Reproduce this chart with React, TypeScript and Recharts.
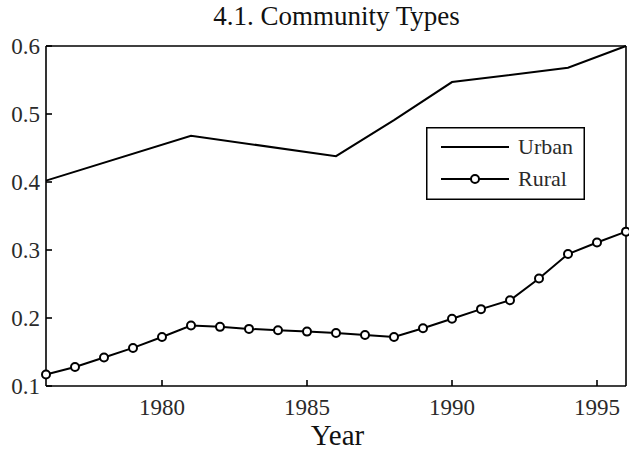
import React from 'react';
import { LineChart, Line, XAxis, YAxis } from 'recharts';

const urbanYears = [1976, 1981, 1986, 1988, 1990, 1994, 1996];
const urbanValues = [0.402, 0.468, 0.438, 0.491, 0.547, 0.568, 0.6];

const ruralYears = [1976, 1977, 1978, 1979, 1980, 1981, 1982, 1983, 1984, 1985, 1986, 1987, 1988, 1989, 1990, 1991, 1992, 1993, 1994, 1995, 1996];
const ruralValues = [0.117, 0.128, 0.142, 0.156, 0.172, 0.189, 0.187, 0.184, 0.182, 0.180, 0.178, 0.175, 0.172, 0.185, 0.199, 0.213, 0.226, 0.258, 0.294, 0.311, 0.327];

const xTicks = [1980, 1985, 1990, 1995];
const yTicks = [0.1, 0.2, 0.3, 0.4, 0.5, 0.6];

const urbanData = urbanYears.map((y, i) => ({ year: y, urban: urbanValues[i] }));
const ruralData = ruralYears.map((y, i) => ({ year: y, rural: ruralValues[i] }));

const FONT = '"Liberation Serif", "DejaVu Serif", serif';
const TXT = '#2a2a2a';
const TL = 6;

const BottomTick = (props: any) => {
  const { x, payload } = props;
  const y = 386;
  return (
    <g>
      <line x1={x} x2={x} y1={y} y2={y - TL} stroke="#000" strokeWidth={1.6} />
      <text x={x} y={y + 29} textAnchor="middle" fontFamily={FONT} fontSize={23} fill={TXT}>{payload.value}</text>
    </g>
  );
};
const TopTick = (props: any) => {
  const { x } = props;
  const y = 46;
  return <line x1={x} x2={x} y1={y} y2={y + TL} stroke="#000" strokeWidth={1.6} />;
};
const LeftTick = (props: any) => {
  const { y, payload } = props;
  const x = 46;
  return (
    <g>
      <line x1={x} x2={x + TL} y1={y} y2={y} stroke="#000" strokeWidth={1.6} />
      <text x={x - 6} y={y + 8} textAnchor="end" fontFamily={FONT} fontSize={23} fill={TXT}>{payload.value.toFixed(1)}</text>
    </g>
  );
};
const RightTick = (props: any) => {
  const { y } = props;
  const x = 626;
  return <line x1={x} x2={x - TL} y1={y} y2={y} stroke="#000" strokeWidth={1.6} />;
};

const LegendBox = () => (
  <div style={{ position: 'absolute', left: 426, top: 127, width: 159, height: 73, zIndex: 2 }}>
    <svg width={159} height={73} style={{ position: 'absolute', left: 0, top: 0 }}>
      <rect x={0.75} y={0.75} width={157.5} height={71.5} fill="#fff" stroke="#000" strokeWidth={1.5} />
      <line x1={15} x2={83} y1={20} y2={20} stroke="#000" strokeWidth={2} />
      <line x1={15} x2={83} y1={52} y2={52} stroke="#000" strokeWidth={2} />
      <circle cx={49} cy={52} r={4} fill="#fff" stroke="#000" strokeWidth={2} />
      <text x={92} y={27} fontFamily={FONT} fontSize={22} fill={TXT}>Urban</text>
      <text x={92} y={59} fontFamily={FONT} fontSize={22} fill={TXT}>Rural</text>
    </svg>
  </div>
);

export default function App() {
  return (
    <div style={{ position: 'absolute', left: 0, top: 0, width: 629, height: 455, background: '#fff' }}>
      <div style={{ position: 'absolute', left: 0, top: 1, width: 673, textAlign: 'center', fontFamily: FONT, fontSize: 27, color: '#111', lineHeight: 'normal' }}>4.1. Community Types</div>
      <div style={{ position: 'absolute', left: 0, top: 419, width: 675, textAlign: 'center', fontFamily: FONT, fontSize: 29, color: '#111', lineHeight: 'normal' }}>Year</div>
      <LineChart width={629} height={455} margin={{ top: 45, right: 2, bottom: 68, left: 45 }}>
        <XAxis xAxisId="b" dataKey="year" type="number" domain={[1976, 1996]} ticks={xTicks} allowDuplicatedCategory={false}
          axisLine={{ stroke: '#000', strokeWidth: 1.6 }} tickLine={false} tickSize={0} tickMargin={0} tick={<BottomTick />} height={1} interval={0} />
        <XAxis xAxisId="t" orientation="top" dataKey="year" type="number" domain={[1976, 1996]} ticks={xTicks} allowDuplicatedCategory={false}
          axisLine={{ stroke: '#000', strokeWidth: 1.6 }} tickLine={false} tickSize={0} tickMargin={0} tick={<TopTick />} height={1} interval={0} />
        <YAxis yAxisId="l" type="number" domain={[0.1, 0.6]} ticks={yTicks}
          axisLine={{ stroke: '#000', strokeWidth: 1.6 }} tickLine={false} tickSize={0} tickMargin={0} tick={<LeftTick />} width={1} interval={0} />
        <YAxis yAxisId="r" orientation="right" type="number" domain={[0.1, 0.6]} ticks={yTicks}
          axisLine={{ stroke: '#000', strokeWidth: 1.6 }} tickLine={false} tickSize={0} tickMargin={0} tick={<RightTick />} width={1} interval={0} />
        <Line xAxisId="b" yAxisId="l" data={urbanData} dataKey="urban" type="linear" stroke="#000" strokeWidth={2} dot={false} isAnimationActive={false} />
        <Line xAxisId="b" yAxisId="l" data={ruralData} dataKey="rural" type="linear" stroke="#000" strokeWidth={2}
          dot={{ r: 4, fill: '#fff', stroke: '#000', strokeWidth: 2 }} isAnimationActive={false} />
      </LineChart>
      <LegendBox />
    </div>
  );
}
